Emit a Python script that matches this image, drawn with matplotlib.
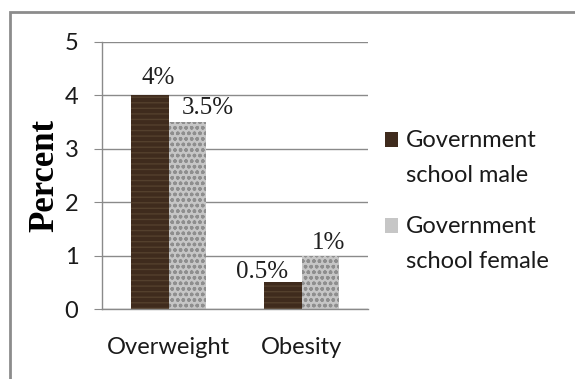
import matplotlib.pyplot as plt
import matplotlib.patches as mpatches
import numpy as np

# bar chart: overweight / obesity in government schools
categories = ['Overweight', 'Obesity']
male = [4, 0.5]
female = [3.5, 1]
male_labels = ['4%', '0.5%']
female_labels = ['3.5%', '1%']
series_names = ['Government\nschool male', 'Government\nschool female']

plt.rcParams['hatch.linewidth'] = 1.0

fig = plt.figure(figsize=(5.75, 3.79), dpi=100)
fig.patches.append(mpatches.Rectangle((10 / 575, -0.05), 1.0, 1 - 12 / 379 + 0.05,
                                      transform=fig.transFigure, fill=False,
                                      edgecolor='#8c8c8c', linewidth=2))

ax = fig.add_axes([102 / 575, 1 - 309 / 379, 266 / 575, 267 / 379])

x = np.arange(len(categories))
w = 0.28
male_style = dict(color='#3f2b1d', edgecolor='#54402d', hatch='---', linewidth=0)
female_style = dict(color='#c6c6c6', edgecolor='#8e8e8e', hatch='ooo', linewidth=0)
b1 = ax.bar(x - w / 2, male, w, **male_style)
b2 = ax.bar(x + w / 2, female, w, **female_style)

# value labels, nudged in pixels
male_off = [(8, 6), (-21, -1)]
female_off = [(21, 3), (8, 2)]
for bars, labels, offs in [(b1, male_labels, male_off), (b2, female_labels, female_off)]:
    for bar, lab, off in zip(bars, labels, offs):
        ax.annotate(lab, (bar.get_x() + bar.get_width() / 2, bar.get_height()),
                    xytext=off, textcoords='offset pixels', ha='center', va='bottom',
                    fontsize=18, family='Liberation Serif', color='#1f1f1f')

ax.set_xlim(-0.5, 1.5)
ax.set_ylim(0, 5)
ax.set_yticks(range(0, 6))
ax.set_xticks(x)
ax.set_xticklabels(categories)
ax.grid(axis='y', color='#8a8a8a', linewidth=1)
ax.set_axisbelow(True)
for s in ['top', 'right']:
    ax.spines[s].set_visible(False)
for s in ['left', 'bottom']:
    ax.spines[s].set_color('#8a8a8a')
    ax.spines[s].set_linewidth(1)
ax.tick_params(axis='y', length=6, color='#8a8a8a', labelsize=17, pad=11)
ax.tick_params(axis='x', length=0, labelsize=17, pad=20)
for t in ax.get_xticklabels() + ax.get_yticklabels():
    t.set_family('Lato')
    t.set_color('#1a1a1a')

ax.set_ylabel('Percent', family='Liberation Serif', fontweight='bold',
              fontsize=25, labelpad=2)

# legend drawn by hand so the swatch lines up with the first text line
for i, (name, style) in enumerate(zip(series_names, [male_style, female_style])):
    base = 147 + 86 * i
    fig.patches.append(mpatches.Rectangle((385 / 575, 1 - base / 379), 13 / 575, 15 / 379,
                                          transform=fig.transFigure, **style))
    for j, line in enumerate(name.split('\n')):
        fig.text(406 / 575, 1 - (base + 35 * j) / 379, line, ha='left', va='baseline',
                 family='Lato', fontsize=17, color='#1a1a1a')

fig.savefig('out.png', dpi=100)
